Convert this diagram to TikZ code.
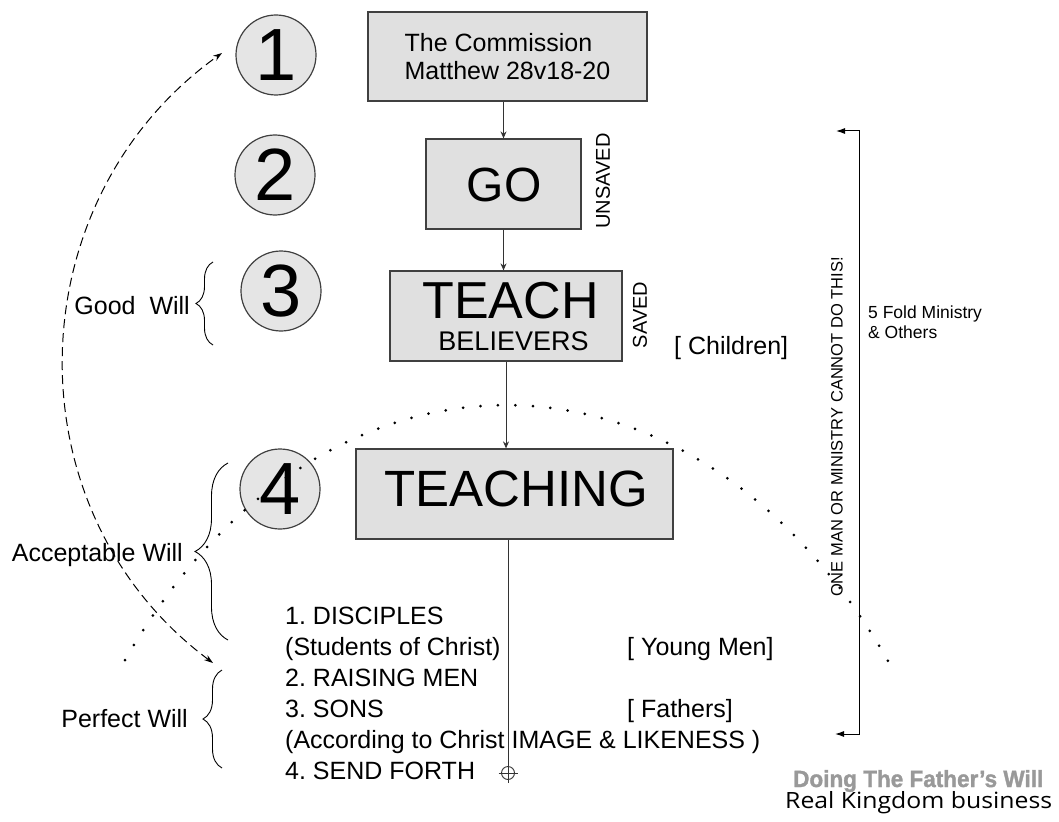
\documentclass[tikz,border=0pt]{standalone}
\usepackage{fontspec}
\usepackage{graphicx}
\setmainfont{Liberation Sans}
\newfontfamily\opensans{Open Sans}
\newfontfamily\heavyfont[FakeBold=1.5]{Liberation Sans}
\usetikzlibrary{arrows.meta,decorations.pathreplacing,calc}
\frenchspacing
\begin{document}
\begin{tikzpicture}[x=1pt,y=-1pt,
  box/.style={draw=black!75,line width=1.2pt,fill=black!12,inner sep=0},
  numc/.style={circle,draw=black!75,line width=1.2pt,fill=black!10,minimum size=80pt,inner sep=0,font=\fontsize{74}{74}\selectfont},
  lbl/.style={inner sep=0,font=\fontsize{25}{30}\selectfont},
  flow/.style={draw=black!80,line width=1pt,-{Stealth[length=7pt,width=6pt]}},
  bracesty/.style={decorate,decoration={brace,amplitude=#1},line width=0.9pt},
]
\fill[white] (0,0) rectangle (1059,821);
\useasboundingbox (0,0) rectangle (1059,821);

% numbered circles
\node[numc] (c1) at (276,55) {1};
\node[numc] (c2) at (275,175) {2};
\node[numc] (c3) at (281,291) {3};
\node[numc] (c4) at (280,489) {4};

% boxes
\node[box,minimum width=279pt,minimum height=89pt] (comm) at (507.5,56.5) {};
\node[inner sep=0,align=left,font=\fontsize{25}{28}\selectfont] (commT) at (507.5,57) {The Commission\\Matthew 28v18-20};

\node[box,minimum width=155pt,minimum height=90pt] (go) at (503.5,184) {};
\node[inner sep=0,font=\fontsize{48}{48}\selectfont] (goT) at (504,185) {GO};

\node[box,minimum width=232pt,minimum height=90pt] (teach) at (506,316) {};
\node[inner sep=0,font=\fontsize{52}{52}\selectfont] (teachT) at (510.5,301) {TEACH};
\node[inner sep=0,font=\fontsize{27}{27}\selectfont] (belT) at (513.5,341.5) {BELIEVERS};

\node[box,minimum width=317pt,minimum height=90pt] (teaching) at (514.5,494) {};
\node[inner sep=0,font=\fontsize{51}{51}\selectfont] (teachingT) at (516.5,489) {TEACHING};

% side labels
\node[inner sep=0,rotate=90,font=\fontsize{20}{20}\selectfont] (unsaved) at (603,181) {UNSAVED};
\node[inner sep=0,rotate=90,font=\fontsize{20}{20}\selectfont] (saved) at (640,315) {SAVED};
\node[lbl,anchor=base west] (child) at (674,354) {[ Children]};

% flow connectors
\draw[flow] (go.north |- comm.south) -- (go.north);
\draw[flow] (go.south) -- (go.south |- teach.north);
\draw[flow] (teach.south) -- (teach.south |- teaching.north);

% crosshair and line down
\node[circle,draw=black!80,line width=0.9pt,minimum size=13pt,inner sep=0] (cross) at (508,773) {};
\coordinate (crossEnd) at (508,783);
\coordinate (crossL) at (498.5,773);
\coordinate (crossR) at (517.5,773);
\draw[draw=black!80,line width=1pt] (teaching.south -| cross.center) -- (crossEnd);
\draw[draw=black!80,line width=0.9pt] (crossL) -- (crossR);

% list
\node[lbl,anchor=base west] (l1) at (285,624) {1. DISCIPLES};
\node[lbl,anchor=base west] (l2) at (285,655) {(Students of Christ)};
\node[lbl,anchor=base west] (l3) at (285,686) {2. RAISING MEN};
\node[lbl,anchor=base west] (l4) at (285,717) {3. SONS};
\node[lbl,anchor=base west] (l5) at (285,748) {(According to Christ IMAGE \& LIKENESS )};
\node[lbl,anchor=base west] (l6) at (285,779) {4. SEND FORTH};
\node[lbl,anchor=base west] (young) at (627,655) {[ Young Men]};
\node[lbl,anchor=base west] (fathers) at (627,717) {[ Fathers]};

% right bracket
\coordinate (bt) at (836,131);
\coordinate (btc) at (859,131);
\coordinate (bbc) at (859,734);
\coordinate (bb) at (835,734);
\draw[line width=1pt,{Latex[length=9pt,width=6pt]}-{Latex[length=9pt,width=6pt]}] (bt) -- (btc) -- (bbc) -- (bb);
\node[inner sep=0,rotate=90,font=\fontsize{16.5}{16.5}\selectfont] (oneman) at (837,427) {ONE MAN OR MINISTRY CANNOT DO THIS!};
\node[inner sep=0,anchor=base west,font=\fontsize{17.5}{20}\selectfont] (fold1) at (868,318) {5 Fold Ministry};
\node[inner sep=0,anchor=base west,font=\fontsize{17.5}{20}\selectfont] (fold2) at (868,338) {\& Others};

% left labels and braces
\node[lbl,anchor=base east] (good) at (190,314) {Good\ \ Will};
\node[lbl,anchor=base east] (accept) at (183,561) {Acceptable Will};
\node[lbl,anchor=base east] (perfect) at (188,727) {Perfect Will};
\coordinate (gB) at (213,345); \coordinate (gT) at (213,262);
\coordinate (aB) at (228,640); \coordinate (aT) at (228,463);
\coordinate (pB) at (222,768); \coordinate (pT) at (222,670);
\draw[bracesty=17pt] (gB) -- (gT);
\draw[bracesty=33pt] (aB) -- (aT);
\draw[bracesty=19pt] (pB) -- (pT);

% dashed arc
\coordinate (dA) at (213,663);
\coordinate (dB) at (222,53);
\draw[line width=1pt,dash pattern=on 9pt off 5pt,{Stealth[length=9pt,width=6pt]}-{Stealth[length=9pt,width=6pt]}] (dA) .. controls (9,511) and (15,201) .. (dB);

% dotted arc
\coordinate (dotL) at (125,660);
\coordinate (dotR) at (888,661);
\draw[line width=3pt,line cap=round,dash pattern=on 0pt off 17.5pt] (dotL) .. controls (320,320) and (693,320) .. (dotR);

% signature
\node[inner sep=0,anchor=base west,text=black!40] (doing) at (793,787) {\resizebox{250pt}{17pt}{\heavyfont\fontsize{22}{22}\selectfont\bfseries Doing The Father’s Will}};
\node[inner sep=0,anchor=base west] (real) at (785,808) {\resizebox{267pt}{\height}{\opensans\fontsize{22.4}{22.4}\selectfont Real Kingdom business}};
\end{tikzpicture}
\end{document}
